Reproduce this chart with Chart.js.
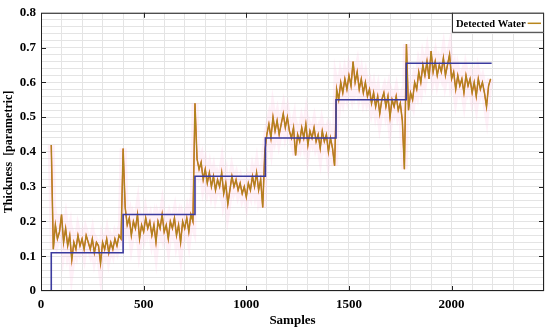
<!DOCTYPE html>
<html>
<head>
<meta charset="utf-8">
<script src="https://cdn.jsdelivr.net/npm/chart.js@4.4.0/dist/chart.umd.min.js"></script>
<style>
html, body { margin: 0; padding: 0; background: #fff; }
</style>
</head>
<body>
<canvas id="chart" width="550" height="330"></canvas>
<script>
// Samples start at 50, one value every 10 samples
const firstSample = 50;
const sampleStep = 10;

// Detected water thickness, one list per plateau
const water1 = [0.42,0.12,0.19,0.15,0.17,0.22,0.14,0.18,0.13,0.16,
                0.09,0.14,0.12,0.16,0.13,0.15,0.12,0.16,0.14,0.12,
                0.15,0.11,0.14,0.13,0.08,0.14,0.12,0.15,0.11,0.14,
                0.12,0.15,0.13,0.16,0.15];
const water2 = [0.41,0.24,0.19,0.21,0.16,0.20,0.18,0.22,0.15,0.19,
                0.17,0.21,0.18,0.20,0.16,0.19,0.14,0.20,0.18,0.22,
                0.17,0.19,0.15,0.20,0.18,0.21,0.16,0.19,0.14,0.20,
                0.18,0.21,0.17,0.22,0.20];
const water3 = [0.54,0.38,0.35,0.37,0.32,0.35,0.31,0.34,0.30,0.33,
                0.29,0.32,0.30,0.34,0.28,0.31,0.25,0.29,0.33,0.30,
                0.32,0.29,0.31,0.28,0.30,0.27,0.31,0.29,0.33,0.30,
                0.34,0.29,0.32,0.24,0.40];
const water4 = [0.45,0.48,0.44,0.50,0.46,0.49,0.45,0.48,0.51,0.47,
                0.50,0.46,0.44,0.47,0.39,0.45,0.43,0.47,0.44,0.48,
                0.42,0.46,0.44,0.47,0.43,0.45,0.41,0.46,0.43,0.45,
                0.40,0.44,0.41,0.36];
const water5 = [0.58,0.55,0.60,0.57,0.61,0.58,0.62,0.59,0.66,0.60,
                0.63,0.58,0.61,0.57,0.60,0.56,0.58,0.54,0.57,0.53,
                0.56,0.51,0.55,0.57,0.53,0.56,0.50,0.55,0.53,0.56,
                0.52,0.54,0.49,0.35];
const water6 = [0.71,0.52,0.57,0.55,0.60,0.58,0.63,0.60,0.65,0.62,
                0.66,0.61,0.69,0.63,0.66,0.62,0.65,0.63,0.67,0.62,
                0.65,0.68,0.61,0.63,0.58,0.62,0.59,0.61,0.57,0.62,
                0.59,0.61,0.57,0.60,0.56,0.61,0.58,0.60,0.57,0.53,
                0.59,0.61];

// True thickness steps: each level starts at the previous sample
const stepSamples = [50, 400, 750, 1093, 1437, 1779, 2195];
const stepLevels  = [0, 0.11, 0.22, 0.33, 0.44, 0.55, 0.655];

const xMax = 2450;
const yMax = 0.8;

const detectedWater = [].concat(water1, water2, water3, water4, water5, water6);
const waterPoints = detectedWater.map((v, i) => ({x: firstSample + i * sampleStep, y: v}));
const stepPoints = stepSamples.map((s, i) => ({x: s, y: stepLevels[i]}));

const serif = 'Liberation Serif, Times New Roman, serif';

// frame with inward tick marks, plus the boxed legend
const framePlugin = {
    id: 'frame',
    afterDraw(chart) {
        const ctx = chart.ctx;
        const a = chart.chartArea;
        const xs = chart.scales.x, ys = chart.scales.y;
        ctx.save();
        ctx.strokeStyle = '#222';
        ctx.lineWidth = 1;
        ctx.strokeRect(a.left + 0.5, a.top + 0.5, a.right - a.left - 1, a.bottom - a.top - 1);
        ctx.beginPath();
        for (let v = 500; v < xMax; v += 500) {
            const px = Math.round(xs.getPixelForValue(v)) + 0.5;
            ctx.moveTo(px, a.bottom); ctx.lineTo(px, a.bottom - 5);
            ctx.moveTo(px, a.top); ctx.lineTo(px, a.top + 5);
        }
        for (let k = 1; k < 8; k++) {
            const py = Math.round(ys.getPixelForValue(k / 10)) + 0.5;
            ctx.moveTo(a.left, py); ctx.lineTo(a.left + 5, py);
            ctx.moveTo(a.right, py); ctx.lineTo(a.right - 5, py);
        }
        ctx.stroke();

        // legend
        const bw = 92, bh = 20;
        const bx = a.right - bw, by = a.top;
        ctx.fillStyle = '#fff';
        ctx.fillRect(bx, by, bw, bh);
        ctx.strokeStyle = '#333';
        ctx.strokeRect(bx + 0.5, by + 0.5, bw - 1, bh - 1);
        ctx.fillStyle = '#000';
        ctx.font = 'bold 10.5px ' + serif;
        ctx.textBaseline = 'middle';
        ctx.fillText('Detected Water', bx + 4, by + bh / 2 + 1);
        const tw = ctx.measureText('Detected Water').width;
        ctx.strokeStyle = '#b8861c';
        ctx.lineWidth = 1.5;
        ctx.beginPath();
        ctx.moveTo(bx + 6 + tw, by + bh / 2 + 0.5);
        ctx.lineTo(a.right - 3, by + bh / 2 + 0.5);
        ctx.stroke();
        ctx.restore();
    }
};

new Chart(document.getElementById('chart'), {
    type: 'line',
    data: {
        datasets: [
            {
                label: 'halo',
                data: waterPoints,
                borderColor: 'rgba(255,190,225,0.22)',
                borderWidth: 7,
                pointRadius: 0,
                order: 4
            },
            {
                label: 'Detected Water',
                data: waterPoints,
                borderColor: '#dd6a2a',
                borderWidth: 1.5,
                pointRadius: 0,
                order: 3
            },
            {
                label: 'Detected Water',
                data: waterPoints,
                borderColor: '#aa861e',
                borderWidth: 1.1,
                pointRadius: 0,
                order: 2
            },
            {
                label: 'Thickness',
                data: stepPoints,
                borderColor: '#3b3b9e',
                borderWidth: 1.6,
                pointRadius: 0,
                stepped: 'after',
                order: 1
            }
        ]
    },
    options: {
        responsive: false,
        animation: false,
        devicePixelRatio: 1,
        layout: { padding: { top: 10, right: 6, left: 0, bottom: 0 } },
        plugins: {
            legend: { display: false },
            tooltip: { enabled: false }
        },
        scales: {
            x: {
                type: 'linear',
                min: 0,
                max: xMax,
                afterFit(scale) { scale.height = 39; },
                grid: { color: '#e4e4e4', drawTicks: false },
                border: { display: false },
                ticks: {
                    stepSize: 100,
                    autoSkip: false,
                    maxRotation: 0,
                    padding: 6,
                    color: '#000',
                    font: { family: serif, size: 13, weight: 'bold' },
                    callback: (v) => (v % 500 === 0 ? String(v) : '')
                },
                title: {
                    display: true,
                    text: 'Samples',
                    color: '#000',
                    font: { family: serif, size: 13, weight: 'bold' },
                    padding: { top: 0, bottom: 2 }
                }
            },
            y: {
                min: 0,
                max: yMax,
                afterFit(scale) { scale.width = 41; },
                grid: { color: '#e4e4e4', drawTicks: false },
                border: { display: false },
                ticks: {
                    stepSize: 0.02,
                    autoSkip: false,
                    padding: 5,
                    color: '#000',
                    font: { family: serif, size: 13, weight: 'bold' },
                    callback: (v) => {
                        const h = Math.round(v * 100);
                        if (h % 10 !== 0) return '';
                        return h === 0 ? '0' : (h / 100).toFixed(1);
                    }
                },
                title: {
                    display: true,
                    text: 'Thickness  [parametric]',
                    color: '#000',
                    font: { family: serif, size: 12, weight: 'bold' },
                    padding: { top: 2, bottom: 0 }
                }
            }
        }
    },
    plugins: [framePlugin]
});
</script>
</body>
</html>
